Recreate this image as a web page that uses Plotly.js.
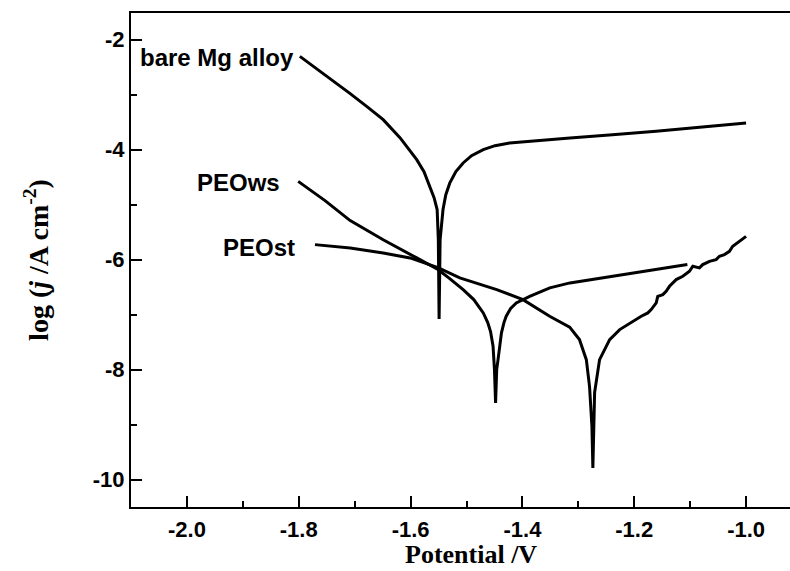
<!DOCTYPE html>
<html>
<head>
<meta charset="utf-8">
<script src="https://cdn.plot.ly/plotly-3.0.1.min.js"></script>
<style>
html, body { margin: 0; padding: 0; overflow: hidden; background: #fff; }
#chart { width: 802px; height: 571px; }
</style>
</head>
<body>
<div id="chart"></div>
<script>
// Potentiodynamic polarization curves
const bareX = [-1.798, -1.753, -1.708, -1.678, -1.649, -1.619, -1.600, -1.589, -1.576, -1.566, -1.558, -1.5525, -1.5504, -1.549, -1.5472, -1.542, -1.537, -1.530, -1.519, -1.506, -1.491, -1.470, -1.449, -1.423, -1.369, -1.315, -1.239, -1.161, -1.083, -1.000];
const bareY = [-2.304, -2.637, -2.982, -3.219, -3.455, -3.782, -4.037, -4.182, -4.40, -4.67, -4.873, -5.09, -5.64, -7.08, -5.64, -5.09, -4.82, -4.61, -4.40, -4.242, -4.11, -4.00, -3.928, -3.879, -3.828, -3.788, -3.728, -3.668, -3.591, -3.515];

const wsX = [-1.801, -1.753, -1.708, -1.649, -1.589, -1.551, -1.530, -1.506, -1.487, -1.470, -1.462, -1.457, -1.4525, -1.450, -1.448, -1.446, -1.4436, -1.4405, -1.4375, -1.433, -1.429, -1.421, -1.411, -1.387, -1.351, -1.315, -1.256, -1.196, -1.151, -1.105];
const wsY = [-4.577, -4.928, -5.291, -5.64, -5.97, -6.18, -6.346, -6.546, -6.727, -6.97, -7.146, -7.31, -7.577, -8.0, -8.606, -8.0, -7.82, -7.546, -7.333, -7.146, -7.03, -6.89, -6.79, -6.668, -6.515, -6.424, -6.333, -6.242, -6.164, -6.091];

const stX = [-1.771, -1.708, -1.649, -1.601, -1.551, -1.512, -1.446, -1.399, -1.3513, -1.3155, -1.298, -1.2857, -1.280, -1.2757, -1.274, -1.2709, -1.262, -1.244, -1.226, -1.2025, -1.1875, -1.1757, -1.1697, -1.1607, -1.158, -1.1489, -1.143, -1.1369, -1.125, -1.1132, -1.1012, -1.0953, -1.0834, -1.0775, -1.0655, -1.0536, -1.0477, -1.0387, -1.0298, -1.0239, -1.012, -1.000];
const stY = [-5.728, -5.788, -5.879, -5.97, -6.146, -6.333, -6.546, -6.728, -7.031, -7.228, -7.455, -7.82, -8.304, -9.03, -9.788, -8.42, -7.82, -7.455, -7.273, -7.122, -7.031, -6.97, -6.91, -6.788, -6.668, -6.637, -6.577, -6.486, -6.364, -6.304, -6.213, -6.122, -6.151, -6.091, -6.031, -6.00, -5.94, -5.909, -5.85, -5.758, -5.667, -5.577];

const curveLabels = ["bare Mg alloy", "PEOws", "PEOst"];
const xTitle = "Potential /V";
const yTitle = "log (<i>j</i> /A cm<sup>-2</sup>)";
const xTickVals = [-2.0, -1.8, -1.6, -1.4, -1.2, -1.0];
const xTickText = ["-2.0", "-1.8", "-1.6", "-1.4", "-1.2", "-1.0"];
const yTickVals = [-10, -8, -6, -4, -2];
const yTickText = ["-10", "-8", "-6", "-4", "-2"];

const bold = s => "<b>" + s + "</b>";
const lineStyle = {color: "#000", width: 3};
const traces = [
  {x: bareX, y: bareY, name: curveLabels[0], mode: "lines", line: lineStyle},
  {x: wsX, y: wsY, name: curveLabels[1], mode: "lines", line: lineStyle},
  {x: stX, y: stY, name: curveLabels[2], mode: "lines", line: lineStyle}
];

const tickFont = {family: "Liberation Sans, Arial, sans-serif", size: 22, color: "#000"};
const labelFont = {family: "Liberation Sans, Arial, sans-serif", size: 24, color: "#000"};
const xTitleFont = {family: "Liberation Serif, Times New Roman, serif", size: 26, color: "#000"};
const yTitleFont = {family: "Liberation Serif, Times New Roman, serif", size: 28, color: "#000"};

const layout = {
  width: 802, height: 571,
  margin: {l: 131, r: 0, t: 13, b: 64},
  paper_bgcolor: "#fff", plot_bgcolor: "#fff",
  showlegend: false,
  hovermode: false,
  xaxis: {
    range: [-2.1, -0.9],
    tickvals: xTickVals, ticktext: xTickText.map(bold),
    ticks: "inside", ticklen: 11, tickwidth: 2, tickcolor: "#000",
    minor: {ticks: "inside", ticklen: 6, tickwidth: 2, tickcolor: "#000", dtick: 0.1, tick0: -2.1, showgrid: false},
    showline: true, linewidth: 2, linecolor: "#000", mirror: true,
    showgrid: false, zeroline: false,
    tickfont: tickFont, ticklabelstandoff: 2
  },
  yaxis: {
    range: [-10.5, -1.515],
    tickvals: yTickVals, ticktext: yTickText.map(bold),
    ticks: "inside", ticklen: 11, tickwidth: 2, tickcolor: "#000",
    minor: {ticks: "inside", ticklen: 6, tickwidth: 2, tickcolor: "#000", dtick: 1, tick0: -11, showgrid: false},
    showline: true, linewidth: 2, linecolor: "#000", mirror: true,
    showgrid: false, zeroline: false,
    tickfont: tickFont, ticklabelstandoff: 0,
    title: {text: bold(yTitle), font: yTitleFont, standoff: 36}
  },
  annotations: [
    {x: 0.5067, y: -0.1285, xref: "paper", yref: "paper", text: bold(xTitle), showarrow: false, xanchor: "center", yanchor: "bottom", borderpad: 0, font: xTitleFont},
    {x: -1.805, y: -2.33, xref: "x", yref: "y", text: bold(curveLabels[0]), showarrow: false, xanchor: "right", yanchor: "middle", font: labelFont},
    {x: -1.830, y: -4.605, xref: "x", yref: "y", text: bold(curveLabels[1]), showarrow: false, xanchor: "right", yanchor: "middle", font: labelFont},
    {x: -1.803, y: -5.773, xref: "x", yref: "y", text: bold(curveLabels[2]), showarrow: false, xanchor: "right", yanchor: "middle", font: labelFont}
  ]
};

Plotly.newPlot("chart", traces, layout, {displayModeBar: false, staticPlot: true});
</script>
</body>
</html>
